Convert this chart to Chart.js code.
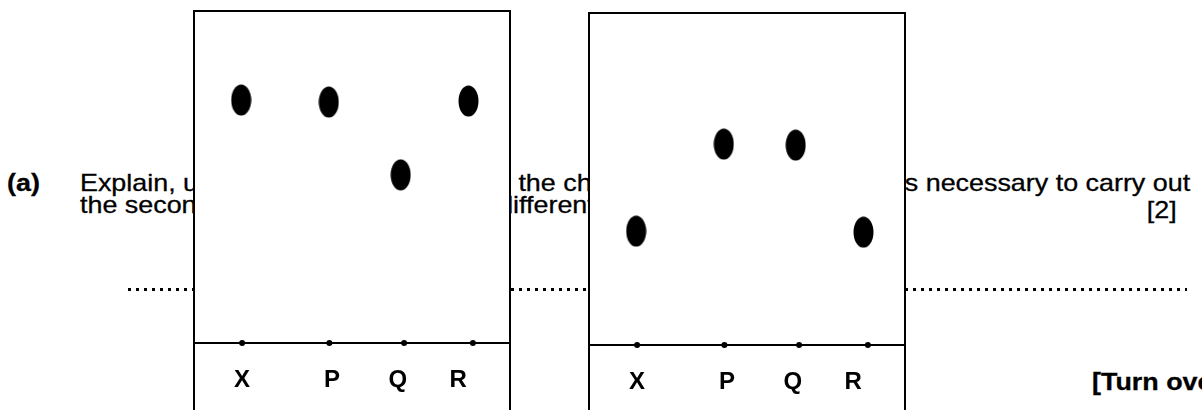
<!DOCTYPE html>
<html>
<head>
<meta charset="utf-8">
<script src="https://cdn.jsdelivr.net/npm/chart.js@4.4.1/dist/chart.umd.min.js"></script>
<style>
body{margin:0;width:1202px;height:410px;overflow:hidden;background:#fff;position:relative;font-family:"Liberation Sans",Arial,sans-serif;color:#000}
.txt{position:absolute;font-size:24px;line-height:24px;white-space:nowrap;transform-origin:0 0;transform:scaleX(1.12);-webkit-text-stroke:0.3px #000;z-index:0}
.txt.r{transform-origin:100% 0}
.b{font-weight:bold}
.dots{position:absolute;top:288px;height:3px;background:repeating-linear-gradient(to right,#000 0 3px,transparent 3px 8px);z-index:0}
.panel{position:absolute;width:314px;height:410px;background:#fff;border:2px solid #000;border-bottom:none;z-index:2}
.panel canvas{display:block}
</style>
</head>
<body>
<div class="txt b" style="left:7px;top:171px">(a)</div>
<div class="txt" style="left:80px;top:171px">Explain, using the</div>
<div class="txt" style="left:490px;top:171px">in the chromatograms,</div>
<div class="txt r" style="right:12px;top:171px">it was necessary to carry out</div>
<div class="txt" style="left:80px;top:193px">the second chromatography</div>
<div class="txt" style="left:404px;top:193px">using a different solvent.</div>
<div class="txt r" style="right:25px;top:198px">[2]</div>
<div class="txt b" style="left:1092px;top:370px">[Turn over</div>

<div class="dots" style="left:128px;width:66px"></div>
<div class="dots" style="left:511px;width:78px"></div>
<div class="dots" style="left:905px;width:282px"></div>

<div class="panel" style="left:193px;top:10px"><canvas id="run1" width="314" height="400"></canvas></div>
<div class="panel" style="left:588px;top:12px"><canvas id="run2" width="314" height="400"></canvas></div>

<script>
// lanes spotted on the origin line
const lanes = ['X', 'P', 'Q', 'R'];
const laneTick = [1.5, 4.36, 6.46, 8.38];
const originX = [1.5, 4.28, 6.66, 8.85];
const spotX = [1.47, 4.26, 6.55, 8.71];

// distance moved by each spot (paper height = 10)
const firstRun = [7.34, 7.28, 5.08, 7.31];
const secondRun = [3.44, 6.07, 6.04, 3.41];

// oval spot marker
const spot = document.createElement('canvas');
spot.width = 21;
spot.height = 32;
const sctx = spot.getContext('2d');
sctx.fillStyle = '#000';
sctx.beginPath();
sctx.ellipse(10.5, 16, 10, 15.6, 0, 0, Math.PI * 2);
sctx.fill();

function makePanel(id, values){
    return new Chart(document.getElementById(id), {
        type: 'scatter',
        data: {
            datasets: [{
                data: spotX.map((x, i) => ({x: x, y: values[i]})),
                pointStyle: spot,
                pointRadius: 10,
                clip: false
            }, {
                data: originX.map(x => ({x: x, y: 0})),
                pointStyle: 'circle',
                pointRadius: 3,
                backgroundColor: '#000',
                borderWidth: 0,
                clip: false
            }]
        },
        options: {
            responsive: false,
            animation: false,
            events: [],
            layout: {padding: 0, autoPadding: false},
            plugins: {legend: {display: false}, tooltip: {enabled: false}},
            scales: {
                x: {
                    type: 'linear',
                    min: 0,
                    max: 10,
                    grid: {display: false, drawTicks: false},
                    border: {display: true, color: '#000', width: 2},
                    afterBuildTicks: s => { s.ticks = laneTick.map(v => ({value: v})); },
                    afterFit: s => { s.height = 69; },
                    ticks: {
                        padding: 23,
                        color: '#000',
                        autoSkip: false,
                        maxRotation: 0,
                        font: {family: 'Liberation Sans', size: 24, weight: 'bold'},
                        callback: (v, i) => lanes[i]
                    }
                },
                y: {display: false, min: 0, max: 10}
            }
        }
    });
}

makePanel('run1', firstRun);
makePanel('run2', secondRun);
</script>
</body>
</html>
